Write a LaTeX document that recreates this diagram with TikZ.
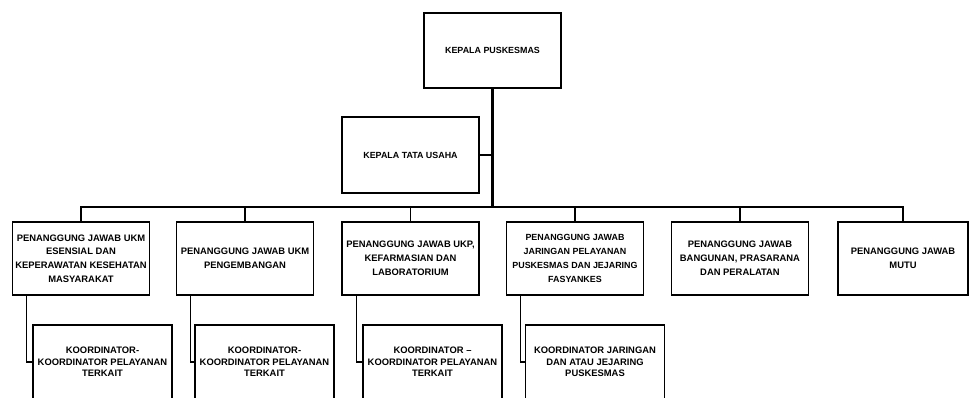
\documentclass[tikz,border=0pt]{standalone}
\usepackage{fontspec}
\setmainfont{Liberation Sans}
\usetikzlibrary{positioning}
\tikzset{unit/.style={draw,line width=1.5pt,align=center,inner xsep=1pt,inner ysep=2pt,font=\bfseries\fontsize{9.4}{13.8}\selectfont,minimum width=137pt,minimum height=73pt}}
\tikzset{sub/.style={unit,font=\bfseries\fontsize{9.4}{11.5}\selectfont,minimum width=139pt,minimum height=74pt}}
\tikzset{link/.style={line width=1.4pt}}

\begin{document}
\begin{tikzpicture}[x=1pt,y=-1pt]
	\useasboundingbox (0,0) rectangle (970,398);
	\clip (0,0) rectangle (970,398);
	\node[unit,minimum height=75pt,font=\bfseries\fontsize{8.9}{12}\selectfont] (kp) at (492.5,50.5) {KEPALA PUSKESMAS};
	\node[unit,minimum height=76pt,font=\bfseries\fontsize{8.9}{12}\selectfont] (ktu) at (410.5,155) {KEPALA TATA USAHA};
	\node[unit] (p1) at (81,258.5) {PENANGGUNG JAWAB UKM\\ ESENSIAL DAN\\ KEPERAWATAN KESEHATAN\\ MASYARAKAT};
	\node[unit] (p2) at (245,258.5) {PENANGGUNG JAWAB UKM\\ PENGEMBANGAN};
	\node[unit] (p3) at (410.5,258.5) {PENANGGUNG JAWAB UKP,\\ KEFARMASIAN DAN\\ LABORATORIUM};
	\node[unit,font=\bfseries\fontsize{8.9}{13.8}\selectfont] (p4) at (575,258.5) {PENANGGUNG JAWAB\\ JARINGAN PELAYANAN\\ PUSKESMAS DAN JEJARING\\ FASYANKES};
	\node[unit] (p5) at (740,258.5) {PENANGGUNG JAWAB\\ BANGUNAN, PRASARANA\\ DAN PERALATAN};
	\node[unit,minimum width=130pt] (p6) at (903,258.5) {PENANGGUNG JAWAB\\ MUTU};
	\node[sub] (k1) at (102.5,362) {KOORDINATOR-\\ KOORDINATOR PELAYANAN\\ TERKAIT};
	\node[sub] (k2) at (264.5,362) {KOORDINATOR-\\ KOORDINATOR PELAYANAN\\ TERKAIT};
	\node[sub] (k3) at (432.5,362) {KOORDINATOR --\\ KOORDINATOR PELAYANAN\\ TERKAIT};
	\node[sub] (k4) at (595,362) {KOORDINATOR JARINGAN\\ DAN ATAU JEJARING\\ PUSKESMAS};
	\coordinate (bus) at (492.5,207);
	% garis komando
	\draw[link,line width=2.4pt] (kp.south) -- (bus);
	\draw[link] (ktu.east) -- (ktu.east -| kp.south);
	\draw[link] (p1.north) |- (bus) -| (p6.north);
	\foreach \p in {p2,p3,p4,p5}
		\draw[link] (\p.north) -- (\p.north |- bus);
	\foreach \p/\k in {p1/k1,p2/k2,p3/k3,p4/k4}
		\draw[link] ([xshift=15pt]\p.south west) |- (\k.west);
\end{tikzpicture}
\end{document}
